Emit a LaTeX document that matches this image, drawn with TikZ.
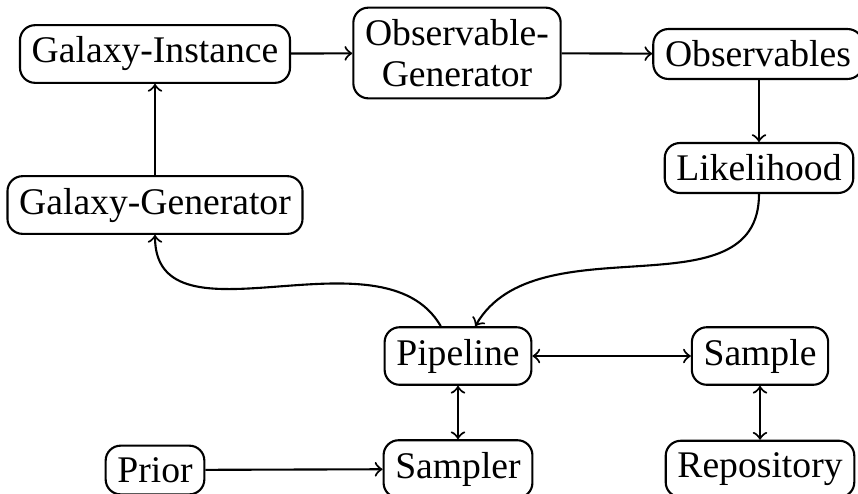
\documentclass[tikz,border=0pt]{standalone}
\usepackage{fontspec}
\setmainfont{Liberation Serif}
\begin{document}
\begin{tikzpicture}[x=0.01cm, y=0.01cm, semithick,
    block/.style={draw, rounded corners=1.5mm, align=center,
      font=\fontsize{10.7}{11.6}\selectfont}]
        \useasboundingbox (0, 0) rectangle (858, 493);
        % nodes
        \node[block] (ginst) at (155, 439) {Galaxy-Instance};
        \node[block] (ogen) at (457, 440) {Observable-\\Generator};
        \node[block] (obs) at (758, 439) {Observables};
        \node[block] (like) at (759, 325) {Likelihood};
        \node[block] (ggen) at (155, 288) {Galaxy-Generator};
        \node[block] (pipe) at (458, 137) {Pipeline};
        \node[block] (samp) at (760, 137) {Sample};
        \node[block] (prior) at (155, 23) {Prior};
        \node[block] (sampler) at (458, 24) {Sampler};
        \node[block] (repo) at (760, 24) {Repository};
        % lines
        \draw[->] (ggen) -- (ginst);
        \draw[->] (ginst) -- (ogen);
        \draw[->] (ogen) -- (obs);
        \draw[->] (obs.south -| like) -- (like);
        \draw[->] (like.south) to[out=-90, in=60] (pipe.60);
        \draw[->] (pipe.120) to[out=120, in=-90] (ggen.south);
        \draw[<->] (pipe) -- (samp);
        \draw[<->] (pipe) -- (sampler);
        \draw[<->] (samp) -- (repo);
        \draw[->] (prior) -- (sampler);
      \end{tikzpicture}
\end{document}
